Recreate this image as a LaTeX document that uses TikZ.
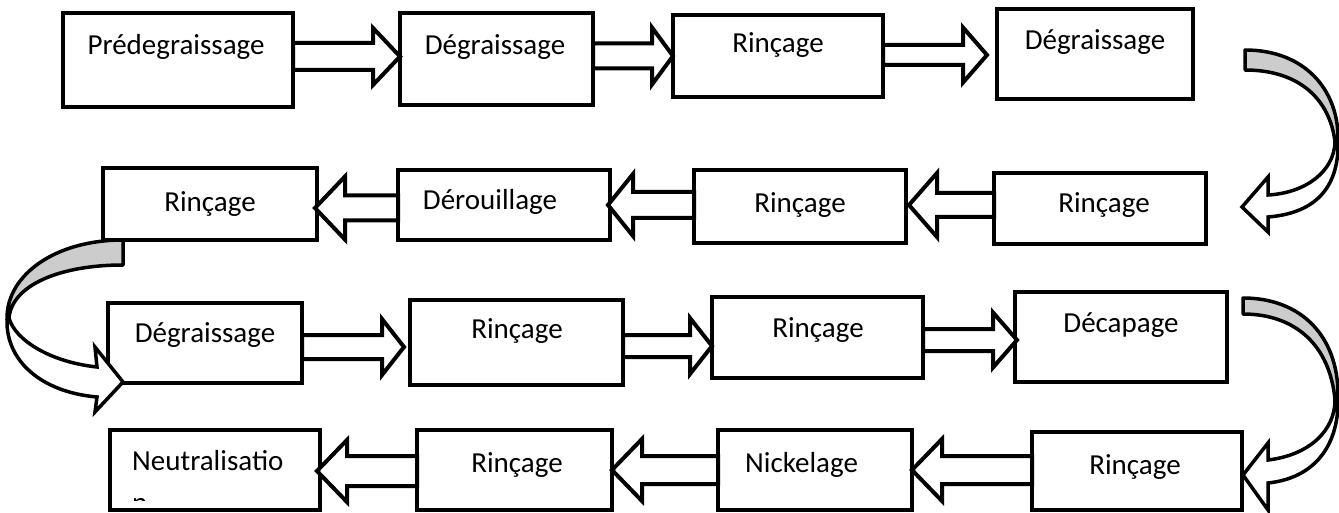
\documentclass[tikz,border=0pt]{standalone}
\usepackage{fontspec}
\setmainfont{Carlito}
\usetikzlibrary{calc}
\definecolor{backgray}{RGB}{204,204,204}
\tikzset{
  procbox/.style={draw=black, fill=white, line width=4.5pt, rectangle, inner sep=0pt, outer sep=0pt},
  lbl/.style={inner sep=0pt, anchor=base, font=\fontsize{29}{35}\selectfont},
  blockarr/.style={draw=black, fill=white, line width=4pt, line join=miter},
  curvefront/.style={draw=black, fill=white, line width=3.5pt, line join=miter},
  curveback/.style={draw=black, fill=backgray, line width=3.5pt, line join=round},
}
\newcommand\rarr[7]{\draw[blockarr] let \p1=(#1.east), \p2=(#2.west) in
  (\x1,#3-#4) -- ({\x2-(#6pt)-(#7pt)},#3-#4) -- ({\x2-(#6pt)-(#7pt)},#3-#5) -- ({\x2-(#7pt)},#3)
  -- ({\x2-(#6pt)-(#7pt)},#3+#5) -- ({\x2-(#6pt)-(#7pt)},#3+#4) -- (\x1,#3+#4) -- cycle;}
\newcommand\larr[7]{\draw[blockarr] let \p1=(#1.west), \p2=(#2.east) in
  (\x1,#3-#4) -- ({\x2+(#6pt)+(#7pt)},#3-#4) -- ({\x2+(#6pt)+(#7pt)},#3-#5) -- ({\x2+(#7pt)},#3)
  -- ({\x2+(#6pt)+(#7pt)},#3+#5) -- ({\x2+(#6pt)+(#7pt)},#3+#4) -- (\x1,#3+#4) -- cycle;}
\begin{document}
\begin{tikzpicture}[x=1pt,y=-1pt]
\useasboundingbox (0,0) rectangle (1339,513);
% boxes
\node[procbox, minimum width=230pt, minimum height=94pt] (A) at (178,60) {};
\node[procbox, minimum width=193pt, minimum height=92pt] (B) at (496.5,59) {};
\node[procbox, minimum width=210pt, minimum height=82pt] (C) at (778,56) {};
\node[procbox, minimum width=196pt, minimum height=90pt] (D) at (1095,54) {};
\node[procbox, minimum width=214pt, minimum height=72pt] (E) at (210,204) {};
\node[procbox, minimum width=212pt, minimum height=70pt] (F) at (504,205) {};
\node[procbox, minimum width=212pt, minimum height=73pt] (G) at (800,206.5) {};
\node[procbox, minimum width=212pt, minimum height=71pt] (H) at (1100,208.5) {};
\node[procbox, minimum width=194pt, minimum height=80pt] (I) at (205,343) {};
\node[procbox, minimum width=213pt, minimum height=85pt] (J) at (516.5,342.5) {};
\node[procbox, minimum width=211pt, minimum height=81pt] (K) at (817.5,337.5) {};
\node[procbox, minimum width=212pt, minimum height=90pt] (L) at (1121,337) {};
\node[procbox, minimum width=210pt, minimum height=80pt] (N) at (215,470) {};
\node[procbox, minimum width=195pt, minimum height=80pt] (O) at (514.5,470) {};
\node[procbox, minimum width=194pt, minimum height=80pt] (P) at (815,470) {};
\node[procbox, minimum width=210pt, minimum height=78pt] (M) at (1137,471) {};
% labels
\node[lbl] (tA) at (176,55) {Prédegraissage};
\node[lbl] (tB) at (495,55) {Dégraissage};
\node[lbl] (tC) at (778,53) {Rinçage};
\node[lbl] (tD) at (1095,50) {Dégraissage};
\node[lbl] (tE) at (210,212) {Rinçage};
\node[lbl] (tF) at (490,210) {Dérouillage};
\node[lbl] (tG) at (800,213) {Rinçage};
\node[lbl] (tH) at (1104,213) {Rinçage};
\node[lbl] (tI) at (205,342) {Dégraissage};
\node[lbl] (tJ) at (517,338) {Rinçage};
\node[lbl] (tK) at (818,337) {Rinçage};
\node[lbl] (tL) at (1121,332) {Décapage};
\node[lbl, anchor=base west] (tN) at (132,470) {Neutralisatio};
\begin{scope}
\clip (112,432) rectangle (318,500);
\node[lbl, anchor=base west] (tN2) at (132,512) {n};
\end{scope}
\node[lbl] (tO) at (517,472) {Rinçage};
\node[lbl, anchor=base west] (tP) at (745,472) {Nickelage};
\node[lbl] (tM) at (1135,474) {Rinçage};
% straight block arrows
\rarr{A}{B}{56.5}{13.5}{28.5}{27}{0}
\rarr{B}{C}{56}{12.5}{28.5}{21}{0}
\rarr{C}{D}{55}{10}{27.5}{24}{10}
\larr{F}{E}{208}{12.5}{31.5}{30}{-2}
\larr{G}{F}{205}{13}{31}{25}{-2}
\larr{H}{G}{205}{12}{32}{28}{3}
\rarr{I}{J}{347}{12}{28}{22}{6}
\rarr{J}{K}{346}{11}{28}{22}{0}
\rarr{K}{L}{340}{11}{27.5}{24}{-2}
\larr{O}{N}{471}{15}{31}{30}{-3}
\larr{P}{O}{470}{14}{31}{30}{0}
\larr{M}{P}{470}{14}{31}{30}{0}
% curved arrow 1 (D -> H)
\draw[curveback] (1245,50) .. controls (1305,50) and (1338,90) .. (1338,138)
  -- (1335,142) .. controls (1330,100) and (1300,70) .. (1245,70) -- cycle;
\draw[curvefront] (1335,142) .. controls (1334,172) and (1305,193) .. (1268,195)
  -- (1268,177) -- (1242,207) -- (1268,232) -- (1268,217)
  .. controls (1318,213) and (1340,185) .. (1338,138) -- cycle;
% curved arrow 2 (E -> I)
\draw[curveback] (123,240) .. controls (55,240) and (7,275) .. (7,318)
  -- (9,318) .. controls (12,285) and (60,265) .. (123,265) -- cycle;
\draw[curvefront] (9,318) .. controls (15,340) and (50,362) .. (97,367)
  -- (95,347) -- (123,382) -- (95,412) -- (97,397)
  .. controls (40,392) and (6,360) .. (7,320) -- cycle;
% curved arrow 3 (L -> M)
\draw[curveback] (1243,298) .. controls (1300,298) and (1338,335) .. (1338,395)
  -- (1335,400) .. controls (1330,345) and (1295,314) .. (1243,314) -- cycle;
\draw[curvefront] (1335,400) .. controls (1335,430) and (1310,455) .. (1268,460)
  -- (1268,443) -- (1243,475) -- (1268,510) -- (1268,483)
  .. controls (1315,478) and (1340,445) .. (1338,395) -- cycle;
\end{tikzpicture}
\end{document}
